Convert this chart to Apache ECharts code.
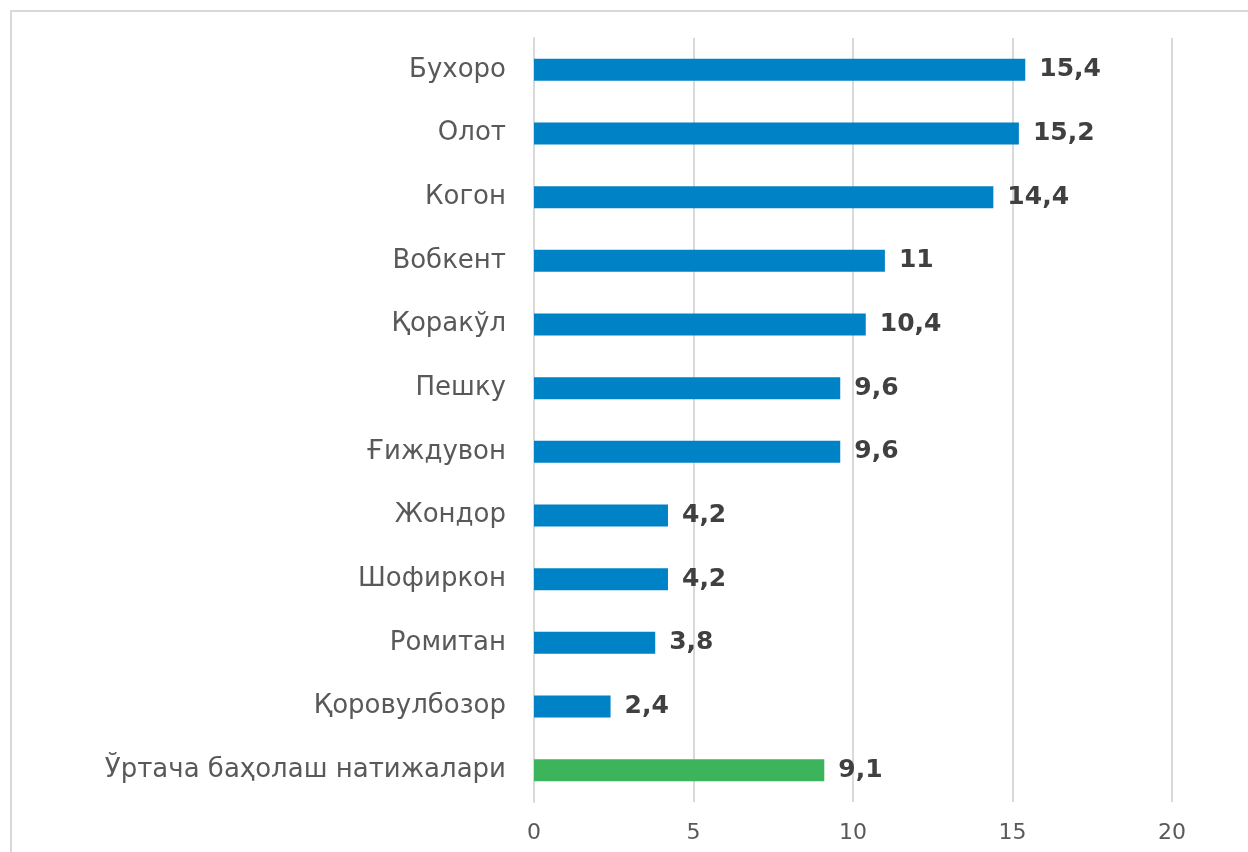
<!DOCTYPE html>
<html>
<head>
<meta charset="utf-8">
<script src="https://cdn.jsdelivr.net/npm/echarts@6/dist/echarts.min.js"></script>
<style>
  html, body { margin: 0; padding: 0; background: #fff; overflow: hidden; }
  #wrap { position: relative; width: 1248px; height: 852px; overflow: hidden; }
  #chart { width: 1248px; height: 852px; }
  .frame { position: absolute; background: #d9d9d9; pointer-events: none; }
  #frameTop { left: 10px; top: 10px; width: 1238px; height: 2px; }
  #frameLeft { left: 10px; top: 10px; width: 2px; height: 842px; }
</style>
</head>
<body>
<div id="wrap">
  <div id="chart"></div>
  <div class="frame" id="frameTop"></div>
  <div class="frame" id="frameLeft"></div>
</div>
<script>
  // districts, top to bottom
  const categories = ['Бухоро', 'Олот', 'Когон', 'Вобкент', 'Қоракўл', 'Пешку', 'Ғиждувон',
    'Жондор', 'Шофиркон', 'Ромитан', 'Қоровулбозор', 'Ўртача баҳолаш натижалари'];
  const values = [15.4, 15.2, 14.4, 11, 10.4, 9.6, 9.6, 4.2, 4.2, 3.8, 2.4, 9.1];
  const averageIndex = 11;
  const xTicks = [0, 5, 10, 15, 20];

  const blue = '#0082c6';
  const green = '#3bb45c';

  let myChart = echarts.init(document.getElementById('chart'));
  let option = {
    animation: false,
    textStyle: {fontFamily: 'DejaVu Sans'},
    grid: {left: 534, right: 76, top: 38, bottom: 50},
    xAxis: {
      type: 'value',
      min: xTicks[0],
      max: xTicks[xTicks.length - 1],
      interval: 5,
      axisLine: {show: false},
      axisTick: {show: false},
      splitLine: {lineStyle: {color: '#d9d9d9', width: 2}},
      axisLabel: {color: '#595959', fontSize: 22, margin: 20}
    },
    yAxis: {
      type: 'category',
      inverse: true,
      data: categories,
      axisLine: {lineStyle: {color: '#d9d9d9', width: 2}},
      axisTick: {length: 8, lineStyle: {color: '#d9d9d9', width: 2}},
      axisLabel: {color: '#595959', fontSize: 26, margin: 28}
    },
    series: [{
      type: 'bar',
      barWidth: 22,
      data: values.map((v, i) => ({
        value: v,
        itemStyle: {color: i === averageIndex ? green : blue}
      })),
      label: {
        show: true,
        position: 'right',
        distance: 14,
        color: '#404040',
        fontSize: 25,
        fontWeight: 'bold',
        formatter: p => String(p.value).replace('.', ',')
      }
    }]
  };
  myChart.setOption(option);
</script>
</body>
</html>
